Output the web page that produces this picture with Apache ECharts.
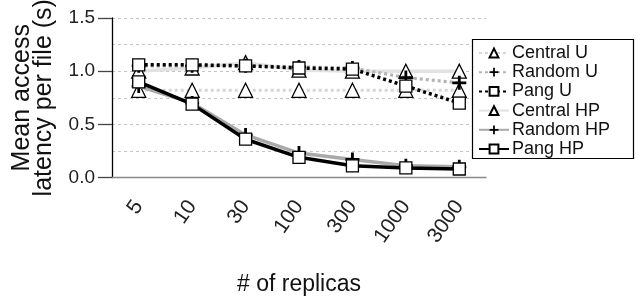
<!DOCTYPE html>
<html><head><meta charset="utf-8">
<script src="https://cdn.jsdelivr.net/npm/echarts@6/dist/echarts.min.js"></script>
<style>html,body{margin:0;padding:0;background:#fff}#c{width:636px;height:297px}</style>
</head><body><div id="c"></div>
<script>
const categories = ['5','10','30','100','300','1000','3000'];
const centralU  = [0.82, 0.82, 0.82, 0.82, 0.82, 0.82, 0.82];
const randomU   = [1.05, 1.05, 1.05, 1.04, 1.03, 0.94, 0.89];
const pangU     = [1.06, 1.06, 1.05, 1.03, 1.02, 0.86, 0.70];
const centralHP = [1.00, 1.03, 1.08, 1.01, 1.00, 1.00, 1.00];
const randomHP  = [0.86, 0.70, 0.40, 0.23, 0.17, 0.11, 0.10];
const pangHP    = [0.90, 0.69, 0.36, 0.19, 0.11, 0.09, 0.08];
const yTicks = [0, 0.5, 1.0, 1.5];

const FONT = 'Liberation Sans';
const PLUS = 'path://M4,0 H6 V4 H10 V6 H6 V10 H4 V6 H0 V4 H4 Z';
function mk(name, data, color, type, width, symbol, size, z) {
  const filled = symbol === PLUS;
  return {
    name, type: 'line', data, z,
    symbol, symbolSize: size, showSymbol: true,
    lineStyle: { color, type, width },
    itemStyle: filled ? { color: '#000', borderWidth: 0 } : { color: '#fff', borderColor: '#000', borderWidth: 1.3 },
    emphasis: { disabled: true }, animation: false
  };
}
const chart = echarts.init(document.getElementById('c'), null, { renderer: 'canvas' });
chart.setOption({
  animation: false,
  textStyle: { fontFamily: FONT },
  grid: { left: 112, right: 150, top: 18, bottom: 119.5, containLabel: false, outerBoundsMode: 'none' },
  xAxis: {
    type: 'category', data: categories, boundaryGap: true,
    axisLine: { lineStyle: { color: '#888', width: 1.3 } },
    axisTick: { alignWithLabel: true, length: 15, lineStyle: { color: '#666', width: 1.3 } },
    axisLabel: { rotate: 55, margin: 25, fontSize: 21, color: '#222', fontFamily: FONT, interval: 0 },
    name: '# of replicas', nameLocation: 'middle', nameGap: 96,
    nameTextStyle: { fontSize: 23, color: '#111', fontFamily: FONT, verticalAlign: 'top' },
    splitLine: { show: false }
  },
  yAxis: {
    type: 'value', min: 0, max: 1.5, interval: 0.5,
    axisLine: { show: true, lineStyle: { color: '#000', width: 1.3 } },
    axisTick: { show: true, length: 14, lineStyle: { color: '#444', width: 1.3 } },
    axisLabel: { margin: 17, fontSize: 19, color: '#222', fontFamily: FONT,
      formatter: v => yTicks.includes(+v.toFixed(2)) ? v.toFixed(1) : '' },
    splitLine: { show: true, lineStyle: { color: '#c4c4c4', type: [3, 3], width: 1 } },
    minorTick: { show: false, splitNumber: 2 },
    minorSplitLine: { show: true, lineStyle: { color: '#c4c4c4', type: [3, 3], width: 1 } },
    name: 'Mean access\nlatency per file (s)', nameLocation: 'middle', nameGap: 57,
    nameTextStyle: { fontSize: 25, lineHeight: 22, color: '#111', fontFamily: FONT }
  },
  legend: {
    orient: 'vertical', left: 478, top: 44, itemWidth: 30, itemHeight: 11, itemGap: 1.2,
    padding: 0, textStyle: { fontSize: 18, color: '#111', fontFamily: FONT, padding: [0, 0, 0, -2] },
    data: ['Central U','Random U','Pang U','Central HP','Random HP','Pang HP'], z: 10
  },
  graphic: [{ type: 'rect', shape: { x: 472.5, y: 39.5, width: 161, height: 119 }, style: { fill: '#fff', stroke: '#000', lineWidth: 1.2 }, z: 5, zlevel: 0 }],
  series: [
    mk('Central U', centralU, '#d6d6d6', [3, 3], 3, 'triangle', 14, 2),
    mk('Random U', randomU, '#b4b4b4', [3, 3], 3.2, PLUS, 14, 3),
    mk('Pang U', pangU, '#000', [3, 3], 3.5, 'rect', 12, 4),
    mk('Central HP', centralHP, '#e2e2e2', 'solid', 3.5, 'triangle', 14, 2),
    mk('Random HP', randomHP, '#a9a9a9', 'solid', 3.5, PLUS, 14, 3),
    mk('Pang HP', pangHP, '#000', 'solid', 3.5, 'rect', 12, 4)
  ]
});
</script></body></html>
